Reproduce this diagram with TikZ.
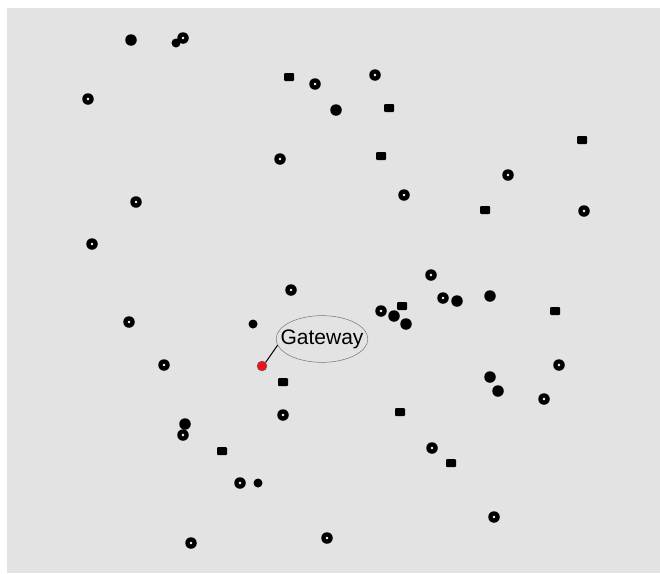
\documentclass[tikz,border=0pt]{standalone}
\usepackage{fontspec}
\setsansfont{Liberation Sans}
\usetikzlibrary{shapes.geometric}
\definecolor{canvas}{HTML}{E3E3E3}
\definecolor{gwred}{HTML}{E8141B}
\tikzset{
  mote/.style={circle, fill=black, inner sep=0pt, minimum size=11.5pt},
  ring/.style={mote, path picture={\fill[white] (path picture bounding box.center) circle (1.4pt);}},
  speck/.style={circle, fill=black, inner sep=0pt, minimum size=9pt},
  tag/.style={rectangle, rounded corners=1pt, fill=black, inner sep=0pt, minimum width=10pt, minimum height=8pt},
  gwdot/.style={circle, fill=gwred, draw=black!60, line width=0.4pt, inner sep=0pt, minimum size=10pt},
  callout/.style={ellipse, draw=black!55, line width=0.5pt, inner xsep=-9pt, inner ysep=7pt,
                  font=\sffamily\fontsize{21}{23}\selectfont},
  lead/.style={draw=black, line width=1pt}
}
\begin{document}
\begin{tikzpicture}[x=1pt, y=-1pt]
 \useasboundingbox (0,0) rectangle (660,573);
 \fill[white] (0,0) rectangle (660,573);
 \fill[canvas] (7,8) rectangle (660,573);
 % sensor motes
 \foreach \x/\y [count=\i] in {183/38, 88/99, 315/84, 375/75, 280/159, 508/175, 136/202,
     404/195, 584/211, 92/244, 431/275, 291/290, 443/298, 129/322, 381/311, 164/365,
     559/365, 544/399, 283/415, 183/435, 432/448, 240/483, 494/517, 191/543, 327/538}
   \node[ring] (r\i) at (\x,\y) {};
 \foreach \x/\y [count=\i] in {131/40, 336/110, 457/301, 490/296, 394/316, 406/324,
     490/377, 498/391, 185/424}
   \node[mote] (m\i) at (\x,\y) {};
 \foreach \x/\y [count=\i] in {176/43, 253/324, 258/483}
   \node[speck] (s\i) at (\x,\y) {};
 \foreach \x/\y [count=\i] in {289/77, 389/108, 381/156, 582/140, 485/210, 555/311,
     402/306, 283/382, 400/412, 222/451, 451/463}
   \node[tag] (t\i) at (\x,\y) {};
 % gateway
 \node[gwdot] (gw) at (262,366) {};
 \node[callout] (gwlabel) at (322,339) {Gateway};
 \draw[lead] (gw.north east) -- (gwlabel.188);
\end{tikzpicture}
\end{document}
